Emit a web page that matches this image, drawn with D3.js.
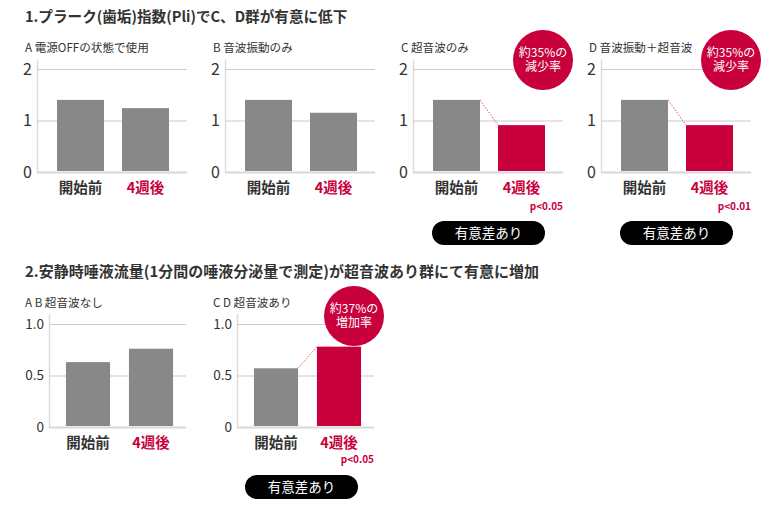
<!DOCTYPE html>
<html><head><meta charset="utf-8">
<script src="https://cdn.jsdelivr.net/npm/d3@7"></script>
<style>
html,body{margin:0;padding:0;background:#fff;}
svg{display:block;font-family:"Noto Sans CJK JP","Noto Sans",sans-serif;}
</style></head>
<body>
<svg id="chart" width="770" height="510"></svg>
<script>
// ---- data ----
const categories = ["開始前", "4週後"];

const title1 = "1.プラーク(歯垢)指数(Pli)でC、D群が有意に低下";
const pliPanels = ["A 電源OFFの状態で使用", "B 音波振動のみ", "C 超音波のみ", "D 音波振動＋超音波"];
const pliBefore = [1.40, 1.40, 1.40, 1.40];
const pliAfter = [1.24, 1.15, 0.91, 0.91];
const pliTicks = [0, 1, 2];
const pliTickLabels = ["0", "1", "2"];
const pliP = [null, null, "p<0.05", "p<0.01"];
const pliBadge = [null, null, ["約35%の", "減少率"], ["約35%の", "減少率"]];

const title2 = "2.安静時唾液流量(1分間の唾液分泌量で測定)が超音波あり群にて有意に増加";
const salPanels = ["A B 超音波なし", "C D 超音波あり"];
const salBefore = [0.63, 0.57];
const salAfter = [0.76, 0.78];
const salTicks = [0, 0.5, 1.0];
const salTickLabels = ["0", "0.5", "1.0"];
const salP = [null, "p<0.05"];
const salBadge = [null, ["約37%の", "増加率"]];

const badgeText = "有意差あり";

// ---- style ----
const RED = "#c8003c", GRAY = "#888888", TXT = "#333333", GRID = "#cccccc";
const svg = d3.select("#chart");

svg.append("text").attr("x", 25).attr("y", 22).attr("font-size", 14.6).attr("font-weight", "bold")
  .attr("fill", TXT).text(title1);
svg.append("text").attr("x", 25).attr("y", 277).attr("font-size", 15).attr("font-weight", "bold")
  .attr("fill", TXT).text(title2);

function panel(cfg) {
  const g = svg.append("g");
  const x0 = cfg.x0, w = cfg.w;
  const y = d3.scaleLinear().domain([0, cfg.ymax]).range([cfg.yBase, cfg.yBase - cfg.unit * cfg.ymax]);
  const x = d3.scaleBand().domain(categories).range([x0 + cfg.bandStart, x0 + cfg.bandStart + cfg.bandW])
    .paddingInner(cfg.pad).paddingOuter(cfg.pad / 2);

  g.append("text").attr("x", x0 - cfg.subOff).attr("y", cfg.subY).attr("font-size", 11.6)
    .attr("fill", TXT).text(cfg.sub);

  // y axis + grid
  const ya = g.append("g").attr("transform", `translate(${x0},0)`)
    .call(d3.axisLeft(y).tickValues(cfg.ticks).tickFormat((d, i) => cfg.tickLabels[i])
      .tickSize(-w).tickSizeOuter(0).tickPadding(5));
  ya.select(".domain").attr("stroke", "#dddddd").attr("stroke-width", 1.5);
  ya.selectAll(".tick line").attr("stroke", GRID).attr("stroke-width", 1.2);
  ya.selectAll(".tick text").attr("font-size", cfg.tickFont).attr("fill", TXT)
    .attr("font-family", "'Noto Sans CJK JP',sans-serif");
  ya.selectAll(".tick").filter(d => d === 0).select("line").attr("stroke", "#d8d8d8").attr("stroke-width", 2);

  const vals = [cfg.before, cfg.after];
  g.selectAll("rect.bar").data(vals).join("rect").attr("class", "bar")
    .attr("x", (d, i) => x(categories[i])).attr("width", x.bandwidth())
    .attr("y", d => y(d)).attr("height", d => y(0) - y(d) - 1)
    .attr("fill", (d, i) => (i === 1 && cfg.sig) ? RED : GRAY);

  // x labels
  const xa = g.append("g").attr("transform", `translate(0,${cfg.labelY})`)
    .call(d3.axisBottom(x).tickSize(0).tickPadding(0));
  xa.select(".domain").remove();
  xa.selectAll(".tick text").attr("font-size", 14.5).attr("font-weight", "bold").attr("dy", 0)
    .attr("font-family", "'Noto Sans CJK JP',sans-serif")
    .attr("fill", (d, i) => i === 1 ? RED : TXT);

  if (cfg.sig) {
    g.append("line")
      .attr("x1", x(categories[0]) + x.bandwidth()).attr("y1", y(cfg.before))
      .attr("x2", x(categories[1])).attr("y2", y(cfg.after))
      .attr("stroke", "#e8506a").attr("stroke-width", 1).attr("stroke-dasharray", "1.5,1.5");
    g.append("text").attr("x", x0 + w).attr("y", cfg.pY).attr("text-anchor", "end")
      .attr("font-size", 10).attr("font-weight", "bold").attr("fill", RED).text(cfg.p);
    // badge
    g.append("circle").attr("cx", cfg.cx).attr("cy", cfg.cy).attr("r", 30).attr("fill", RED);
    const bt = g.append("text").attr("text-anchor", "middle").attr("font-size", 12).attr("fill", "#fff");
    cfg.badge.forEach((t, i) => {
      bt.append("tspan").attr("x", cfg.cx).attr("y", cfg.cy - 3.5 + i * 14).text(t);
    });
    // pill
    g.append("rect").attr("x", cfg.pillX).attr("y", cfg.pillY).attr("width", 113).attr("height", 24)
      .attr("rx", 12).attr("fill", "#000");
    g.append("text").attr("x", cfg.pillX + 56.5).attr("y", cfg.pillY + 17).attr("text-anchor", "middle")
      .attr("font-size", 13.5).attr("fill", "#fff").text(badgeText);
  }
}

pliPanels.forEach((s, i) => {
  const x0 = 37 + i * 188;
  panel({
    x0, w: 150, sub: s, subOff: 12, subY: 52, ymax: 2.2, yBase: 172, unit: 51.5,
    ticks: pliTicks, tickLabels: pliTickLabels, tickFont: 16,
    bandStart: 11, bandW: 130, pad: 18 / 65,
    before: pliBefore[i], after: pliAfter[i], sig: !!pliP[i], p: pliP[i], pY: 210,
    labelY: 193, badge: pliBadge[i], cx: x0 + 130, cy: 60, pillX: x0 + 19, pillY: 221
  });
});

salPanels.forEach((s, i) => {
  const x0 = 49 + i * 188;
  panel({
    x0, w: 137, sub: s, subOff: 24, subY: 307, ymax: 1.1, yBase: 427, unit: 103,
    ticks: salTicks, tickLabels: salTickLabels, tickFont: 13.5,
    bandStart: 7.5, bandW: 126, pad: 0.3,
    before: salBefore[i], after: salAfter[i], sig: !!salP[i], p: salP[i], pY: 463,
    labelY: 448, badge: salBadge[i], cx: x0 + 117, cy: 316, pillX: x0 + 8, pillY: 475
  });
});
</script>
</body></html>
